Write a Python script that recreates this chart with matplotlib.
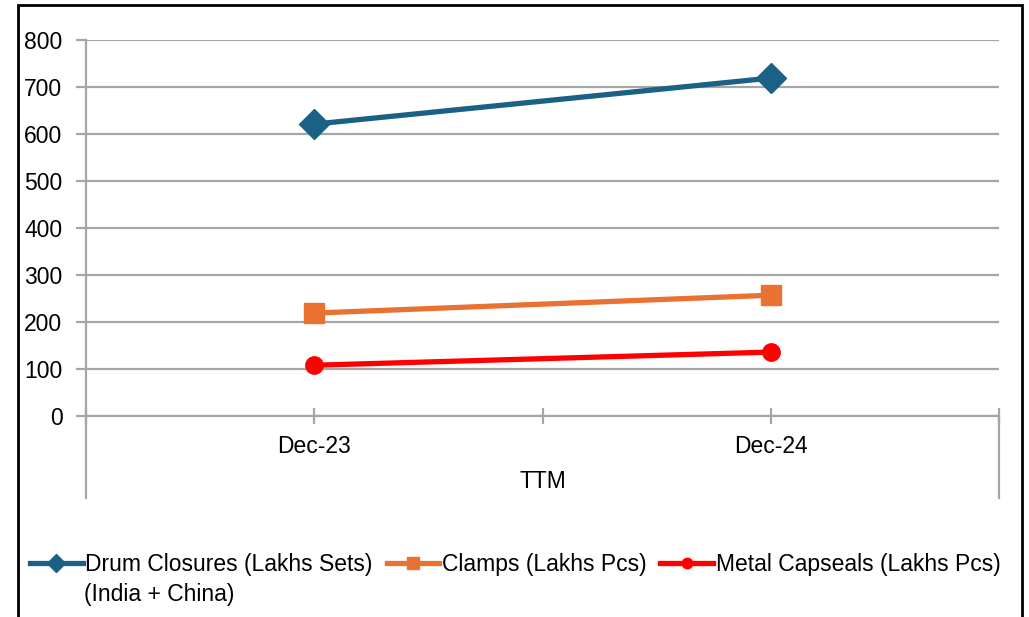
import matplotlib
matplotlib.use('Agg')
import matplotlib.pyplot as plt
from matplotlib.patches import Rectangle

# chart data
categories = ['Dec-23', 'Dec-24']
group_label = 'TTM'
drum_closures = [621, 719]
clamps = [219, 257]
metal_capseals = [108, 136]
yticks = [0, 100, 200, 300, 400, 500, 600, 700, 800]

plt.rcParams['font.family'] = ['Liberation Sans', 'DejaVu Sans']
FS = 16.5

W, H = 1029, 617
fig = plt.figure(figsize=(W / 100, H / 100), dpi=100)
ax = fig.add_axes([86 / W, 1 - 416 / H, (999 - 86) / W, (416 - 40) / H])

grid_c = '#a6a6a6'
x = list(range(len(categories)))
ax.plot(x, drum_closures, color='#1B6085', lw=3.8, marker='D', ms=15,
        label='Drum Closures (Lakhs Sets)', zorder=3)
ax.plot(x, clamps, color='#E97132', lw=3.8, marker='s', ms=15,
        label='Clamps (Lakhs Pcs)', zorder=3)
ax.plot(x, metal_capseals, color='#FF0000', lw=3.8, marker='o', ms=12.5,
        label='Metal Capseals (Lakhs Pcs)', zorder=3)

ax.set_xlim(-0.5, len(categories) - 0.5)
ax.set_ylim(0, 800)
ax.set_yticks(yticks)
ax.set_yticklabels([str(v) for v in yticks], fontsize=FS)
ax.yaxis.grid(True, color=grid_c, lw=1.6)
ax.set_axisbelow(True)
ax.tick_params(axis='y', length=7, width=1.6, color=grid_c, pad=10, labelcolor='black')

ax.set_xticks(x)
ax.set_xticklabels(categories, fontsize=FS)
ax.set_xticks([-0.5, 0.5, 1.5], minor=True)
ax.tick_params(axis='x', which='both', direction='inout', length=12, width=1.6,
               color=grid_c, pad=8, labelcolor='black')

for s in ['top', 'right']:
    ax.spines[s].set_visible(False)
for s in ['left', 'bottom']:
    ax.spines[s].set_color(grid_c)
    ax.spines[s].set_linewidth(1.6)

# multi-level category boundaries
ext = (498 - 416) / (416 - 40)
for xb in [0, 1]:
    ax.plot([xb, xb], [0, -ext], transform=ax.transAxes, color=grid_c, lw=1.6, clip_on=False)
ax.text(0.5, -(482 - 416) / (416 - 40), group_label, transform=ax.transAxes,
        ha='center', va='center', fontsize=FS)

handles, labels = ax.get_legend_handles_labels()
leg = fig.legend(handles, labels, loc='center left', bbox_to_anchor=(30 / W, 1 - 565 / H),
                 ncol=3, frameon=False, fontsize=FS, handlelength=2.3, handletextpad=0.12,
                 columnspacing=0.6, borderaxespad=0, borderpad=0, markerscale=0.6)
fig.text(84 / W, 1 - 595 / H, '(India + China)', ha='left', va='center', fontsize=FS)

fig.patches.append(Rectangle((18 / W, -0.05), (1022 - 18) / W, 1 - 5 / H + 0.05,
                             transform=fig.transFigure, fill=False, ec='black', lw=2))

fig.savefig('out.png', dpi=100)
